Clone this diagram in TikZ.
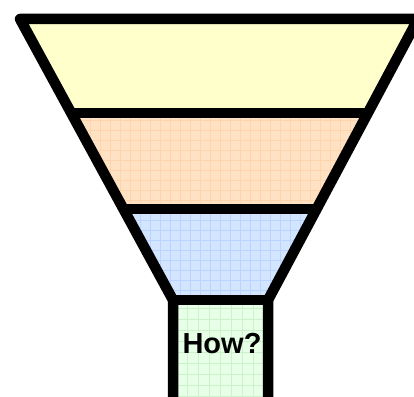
\documentclass[tikz,border=0pt]{standalone}
\usepackage{fontspec}
\setmainfont{Liberation Sans}
\usepackage{tikz}
\usetikzlibrary{positioning}
\definecolor{topband}{HTML}{FFFFCC}
\definecolor{midband}{HTML}{FFE2C4}
\definecolor{midgrid}{HTML}{FFD4AC}
\definecolor{lowband}{HTML}{D4E6FF}
\definecolor{lowgrid}{HTML}{B8D4FF}
\definecolor{spout}{HTML}{E6FFE6}
\definecolor{spoutgrid}{HTML}{CCF2CC}

\begin{document}
\begin{tikzpicture}[x=1pt,y=-1pt,
  funnel/.style={line width=10.5pt, line join=round},
  texture/.style={line width=0.6pt}]
\useasboundingbox (0,0) rectangle (414,396);
\clip (0,0) rectangle (414,396);
% bands
\fill[topband] (20,19) -- (418,19) -- (367.8,113) -- (71.2,113) -- cycle;
\begin{scope}
  \clip (71.2,113) -- (367.8,113) -- (316.6,209) -- (123.5,209) -- cycle;
  \fill[midband] (60,100) rectangle (380,220);
  \draw[texture, midgrid, xstep=10pt, ystep=10pt] (60,220) grid (380,100);
\end{scope}
\begin{scope}
  \clip (123.5,209) -- (316.6,209) -- (268,300) -- (173,300) -- cycle;
  \fill[lowband] (110,200) rectangle (330,310);
  \draw[texture, lowgrid, xstep=10pt, ystep=10pt] (110,310) grid (330,200);
\end{scope}
\begin{scope}
  \clip (173,300) rectangle (268,410);
  \fill[spout] (173,300) rectangle (268,410);
  \draw[texture, spoutgrid, xstep=11pt, ystep=11pt] (170,410) grid (270,300);
\end{scope}
% outline
\draw[funnel] (173,410) -- (173,300) -- (20,19) -- (418,19) -- (268,300) -- (268,410);
\draw[funnel] (71.2,113) -- (367.8,113);
\draw[funnel] (123.5,209) -- (316.6,209);
\draw[funnel] (173,300) -- (268,300);
\node[font=\bfseries\fontsize{29}{32}\selectfont, inner sep=0pt] (how) at (222,344) {How?};
\end{tikzpicture}
\end{document}
